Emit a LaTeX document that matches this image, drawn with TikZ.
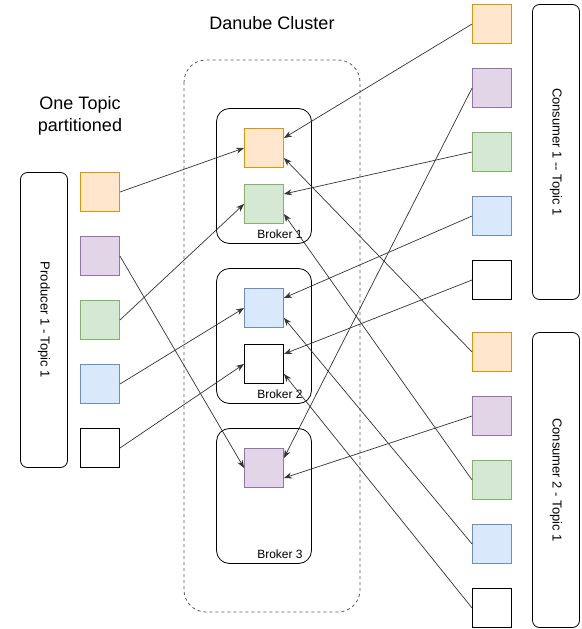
\documentclass[tikz,border=0pt]{standalone}
\usepackage{fontspec}
\setmainfont{Liberation Sans}
\usetikzlibrary{arrows.meta,calc}
\definecolor{orF}{HTML}{FFE6CC}\definecolor{orS}{HTML}{D79B00}
\definecolor{puF}{HTML}{E1D5E7}\definecolor{puS}{HTML}{9673A6}
\definecolor{grF}{HTML}{D5E8D4}\definecolor{grS}{HTML}{82B366}
\definecolor{blF}{HTML}{DAE8FC}\definecolor{blS}{HTML}{6C8EBF}
\definecolor{lineC}{HTML}{333333}
\begin{document}
\begin{tikzpicture}[x=1pt,y=-1pt,
  part/.style={draw,line width=0.9pt,minimum size=39pt,inner sep=0pt},
  por/.style={part,fill=orF,draw=orS},
  ppu/.style={part,fill=puF,draw=puS},
  pgr/.style={part,fill=grF,draw=grS},
  pbl/.style={part,fill=blF,draw=blS},
  pwh/.style={part,fill=white,draw=black},
  client/.style={draw=black,line width=0.8pt,rounded corners=7pt,minimum width=47pt,minimum height=295pt,inner sep=0pt},
  broker/.style={draw=black,line width=0.8pt,rounded corners=13pt,minimum width=95pt,minimum height=135pt,inner sep=0pt},
  conn/.style={draw=lineC,line width=0.7pt,-{Stealth[length=8pt,width=6pt]}},
  small/.style={font=\fontsize{12}{14}\selectfont},
  big/.style={font=\fontsize{18}{22}\selectfont,align=center},
  side/.style={font=\fontsize{13}{15}\selectfont,rotate=-90}
]
\useasboundingbox (0,0) rectangle (581,629);

% titles
\node[big] (title) at (272,23) {Danube Cluster};
\node[big] (topic) at (80,116) {One Topic\\partitioned};

% cluster
\draw[draw=black!65,line width=0.8pt,dash pattern=on 3pt off 3pt,rounded corners=22pt] (184,60) rectangle (360,612);

% brokers
\node[broker] (br1) at (264,176) {};
\node[broker] (br2) at (264,336) {};
\node[broker] (br3) at (264,496) {};
\node[small] (l1) at (280,234) {Broker 1};
\node[small] (l2) at (280,394) {Broker 2};
\node[small] (l3) at (280,554) {Broker 3};

\node[por] (b1o) at (264,148) {};
\node[pgr] (b1g) at (264,204) {};
\node[pbl] (b2b) at (264,308) {};
\node[pwh] (b2w) at (264,364) {};
\node[ppu] (b3p) at (264,468) {};

% producer
\node[client] (prod) at (44,320) {};
\node[side] (prodt) at (44,320) {Producer 1 - Topic 1};
\node[por] (po) at (100,192) {};
\node[ppu] (pp) at (100,256) {};
\node[pgr] (pg) at (100,320) {};
\node[pbl] (pb) at (100,384) {};
\node[pwh] (pw) at (100,448) {};

% consumer 1
\node[client] (c1) at (556,152) {};
\node[side] (c1t) at (556,152) {Consumer 1 -{}- Topic 1};
\node[por] (c1o) at (492,24) {};
\node[ppu] (c1p) at (492,88) {};
\node[pgr] (c1g) at (492,152) {};
\node[pbl] (c1b) at (492,216) {};
\node[pwh] (c1w) at (492,280) {};

% consumer 2
\node[client] (c2) at (556,480) {};
\node[side] (c2t) at (556,480) {Consumer 2 - Topic 1};
\node[por] (c2o) at (492,352) {};
\node[ppu] (c2p) at (492,416) {};
\node[pgr] (c2g) at (492,480) {};
\node[pbl] (c2b) at (492,544) {};
\node[pwh] (c2w) at (492,608) {};

% producer -> brokers
\draw[conn] (po.east) -- (b1o.west);
\draw[conn] (pp.east) -- (b3p.west);
\draw[conn] (pg.east) -- (b1g.west);
\draw[conn] (pb.east) -- (b2b.west);
\draw[conn] (pw.east) -- (b2w.west);

% consumer 1 -> brokers
\draw[conn] (c1o.west) -- ([yshift=10pt]b1o.east);
\draw[conn] (c1p.west) -- ([yshift=10pt]b3p.east);
\draw[conn] (c1g.west) -- ([yshift=10pt]b1g.east);
\draw[conn] (c1b.west) -- ([yshift=10pt]b2b.east);
\draw[conn] (c1w.west) -- ([yshift=10pt]b2w.east);

% consumer 2 -> brokers
\draw[conn] (c2o.west) -- ([yshift=-10pt]b1o.east);
\draw[conn] (c2p.west) -- ([yshift=-10pt]b3p.east);
\draw[conn] (c2g.west) -- ([yshift=-10pt]b1g.east);
\draw[conn] (c2b.west) -- ([yshift=-10pt]b2b.east);
\draw[conn] (c2w.west) -- ([yshift=-10pt]b2w.east);
\end{tikzpicture}
\end{document}
